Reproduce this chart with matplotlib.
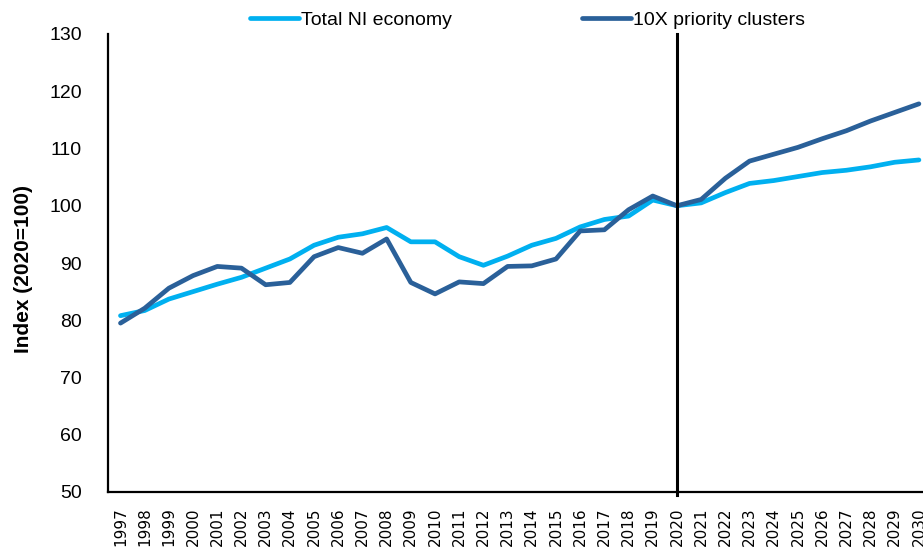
import numpy as np
import matplotlib
matplotlib.use("Agg")
import matplotlib.pyplot as plt

# Annual index values, 2020 = 100
years = list(range(1997, 2031))
total_ni = [80.8, 81.7, 83.7, 85.0, 86.3, 87.5, 89.1, 90.7, 93.1, 94.5, 95.1, 96.2,
            93.7, 93.7, 91.1, 89.6, 91.2, 93.1, 94.3, 96.3, 97.6, 98.2, 101.0, 100.0,
            100.5, 102.3, 103.9, 104.4, 105.1, 105.8, 106.2, 106.8, 107.6, 108.0]
priority_10x = [79.5, 82.1, 85.6, 87.8, 89.4, 89.1, 86.2, 86.6, 91.1, 92.7, 91.7, 94.2,
                86.6, 84.6, 86.7, 86.4, 89.4, 89.5, 90.7, 95.6, 95.8, 99.3, 101.7, 100.0,
                101.1, 104.8, 107.8, 109.0, 110.2, 111.7, 113.1, 114.8, 116.3, 117.8]
series_labels = ["Total NI economy", "10X priority clusters"]
base_year = 2020

light_blue = "#00B0F0"
dark_blue = "#2A6099"

fig = plt.figure(figsize=(9.23, 5.53), dpi=100)
ax = fig.add_axes([108.4 / 923, 1 - 492 / 553, 822.6 / 923, 458 / 553])

ax.plot(years, total_ni, color=light_blue, lw=3.4, label=series_labels[0],
        solid_capstyle="round", solid_joinstyle="round")
ax.plot(years, priority_10x, color=dark_blue, lw=3.4, label=series_labels[1],
        solid_capstyle="round", solid_joinstyle="round")

# marker line for the base year, running a little past the x axis
ax.plot([base_year, base_year], [49.4, 130], color="black", lw=2.2, clip_on=False, zorder=5)

ax.set_xlim(1996.5, 2030.5)
ax.set_ylim(50, 130)
ax.set_yticks(np.arange(50, 131, 10))
ax.set_xticks(years)
ax.set_xticklabels([str(y) for y in years], rotation=90, fontsize=11,
                   family="DejaVu Sans")
for lab in ax.get_yticklabels():
    lab.set_family("Liberation Sans")
    lab.set_fontsize(14)
ax.tick_params(axis="y", length=0, pad=19)
ax.tick_params(axis="x", length=0, pad=11)

for side in ["top", "right"]:
    ax.spines[side].set_visible(False)
for side in ["left", "bottom"]:
    ax.spines[side].set_linewidth(1.6)
    ax.spines[side].set_color("black")

ax.set_ylabel("Index (2020=100)", fontsize=15, fontweight="bold", family="Liberation Sans")
ax.yaxis.set_label_coords(-0.0917, 0.487)

fig.legend(loc="center", bbox_to_anchor=(527.5 / 923, 1 - 20 / 553), ncol=2, frameon=False,
           prop={"family": "Liberation Sans", "size": 14}, handlelength=2.5,
           handletextpad=0.1, columnspacing=6.7, borderpad=0)

fig.savefig("out.png", dpi=100)
